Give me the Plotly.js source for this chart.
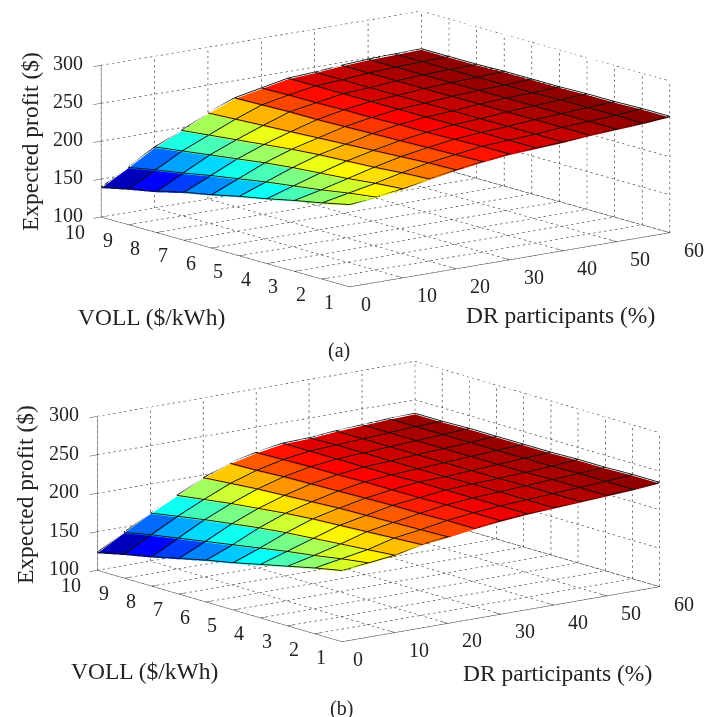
<!DOCTYPE html>
<html><head><meta charset="utf-8">
<script src="https://cdn.plot.ly/plotly-3.0.1.min.js"></script>
<style>html,body{margin:0;padding:0;background:#fff}#c{width:721px;height:717px}</style></head>
<body><div id="c"></div>
<script>
const drParticipants=[0,5,10,15,20,25,30,35,40,45,50,55,60];
const voll=[10,9,8,7,6,5,4,3,2,1];
const profitA=[
[138,158,179,195,212,226,233,240,242,245,247,248,249],
[146,165,184,199,214,227,234,240,242,245,247,248,249],
[153,171,189,203,216,228,234,240,242,245,247,248,249],
[162,178,194,207,218,228,235,240,242,245,247,248,250],
[169,184,199,211,220,229,235,240,242,245,247,248,250],
[177,190,203,214,222,230,236,240,242,245,247,248,250],
[184,195,206,216,224,231,236,240,242,245,247,249,251],
[192,200,209,218,226,232,237,240,242,245,247,249,251],
[199,206,213,221,228,233,238,240,242,245,247,249,252],
[207,211,216,223,229,234,238,240,242,245,247,249,252]];
const profitB=[
[122,142,161,178,195,208,216,222,223,226,228,230,231],
[130,149,167,183,198,209,217,222,224,226,228,230,231],
[137,155,173,188,201,211,218,222,224,226,228,230,232],
[145,161,178,192,203,212,218,222,224,226,228,230,232],
[153,167,183,196,205,213,219,222,224,226,228,230,232],
[160,173,187,199,207,214,219,223,224,226,228,230,232],
[168,179,190,201,208,215,219,223,225,226,228,230,233],
[176,184,193,203,209,215,220,223,225,227,229,231,233],
[184,190,196,205,210,216,220,223,225,227,229,231,234],
[191,195,199,207,211,216,220,223,225,227,229,231,234]];
const xTicks=[0,10,20,30,40,50,60], yTicks=[1,2,3,4,5,6,7,8,9,10], zTicks=[100,150,200,250,300];
const colorRangeA=[131,250], colorRangeB=[115,233];
const FONT='"Liberation Serif","Times New Roman",serif';
function jet(t){t=Math.max(0,Math.min(1,t));
 const f=(a)=>Math.round(255*Math.max(0,Math.min(1,1.5-Math.abs(4*t-a))));
 return `rgb(${f(3)},${f(2)},${f(1)})`;}
function surf(Z,scene,cr){
 const X=[],Y=[],W=[],I=[],J=[],K=[],C=[];const nx=drParticipants.length,ny=voll.length;
 Z.forEach((r,i)=>r.forEach((v,j)=>{X.push(drParticipants[j]);Y.push(voll[i]);W.push(v);}));
 for(let i=0;i<ny-1;i++)for(let j=0;j<nx-1;j++){const a=i*nx+j,b=a+1,c=a+nx,d=c+1,col=jet((Z[i][j]-cr[0])/(cr[1]-cr[0]));
  I.push(a,a);J.push(b,d);K.push(d,c);C.push(col,col);}
 const lx=[],ly=[],lz=[],lift=1.5;
 for(let i=0;i<ny;i++){for(let j=0;j<nx;j++){lx.push(drParticipants[j]);ly.push(voll[i]);lz.push(Z[i][j]+lift);}lx.push(null);ly.push(null);lz.push(null);}
 for(let j=0;j<nx;j++){for(let i=0;i<ny;i++){lx.push(drParticipants[j]);ly.push(voll[i]);lz.push(Z[i][j]+lift);}lx.push(null);ly.push(null);lz.push(null);}
 return [{type:'mesh3d',scene,x:X,y:Y,z:W,i:I,j:J,k:K,facecolor:C,flatshading:true,hoverinfo:'skip',showscale:false,
  lighting:{ambient:1,diffuse:0,specular:0,roughness:1,fresnel:0},lightposition:{x:0,y:0,z:1000}},
 {type:'scatter3d',scene,mode:'lines',x:lx,y:ly,z:lz,line:{color:'#111',width:1.8},connectgaps:false,hoverinfo:'skip',showlegend:false}];
}
function grid(scene){
 const lx=[],ly=[],lz=[];
 const dotted=(a,b,n)=>{for(let i=0;i<n;i++){const s=i/n,e=(i+0.4)/n;
   lx.push(a[0]+(b[0]-a[0])*s,a[0]+(b[0]-a[0])*e,null);ly.push(a[1]+(b[1]-a[1])*s,a[1]+(b[1]-a[1])*e,null);lz.push(a[2]+(b[2]-a[2])*s,a[2]+(b[2]-a[2])*e,null);}};
 const NX=59,NY=47,NZ=28;
 xTicks.forEach(x=>{dotted([x,1,100],[x,10,100],NY);dotted([x,10,100],[x,10,300],NZ);});
 yTicks.forEach(y=>{dotted([0,y,100],[60,y,100],NX);dotted([60,y,100],[60,y,300],NZ);});
 zTicks.forEach(z=>{dotted([0,10,z],[60,10,z],NX);dotted([60,10,z],[60,1,z],NY);});
 return {type:'scatter3d',scene,mode:'lines',x:lx,y:ly,z:lz,line:{color:'#222',width:1.2},connectgaps:false,hoverinfo:'skip',showlegend:false};
}
function ticks(scene){
 const lx=[],ly=[],lz=[];
 xTicks.forEach(x=>{lx.push(x,x,null);ly.push(1,1.2,null);lz.push(100,100,null);});
 yTicks.forEach(y=>{lx.push(0,1.3,null);ly.push(y,y,null);lz.push(100,100,null);});
 return {type:'scatter3d',scene,mode:'lines',x:lx,y:ly,z:lz,line:{color:'#444',width:1},connectgaps:false,hoverinfo:'skip',showlegend:false};
}
function axis(v,r,tk){return {range:r,tickvals:v,showticklabels:false,showgrid:false,zeroline:false,showbackground:false,showspikes:false,showline:true,linecolor:'#444',linewidth:1,ticks:tk,ticklen:5,tickcolor:'#444',title:{text:''}};}
function tickAnn(){const a=[];const f={family:FONT,size:20,color:'#222'};const mk=(x,y,z,t,xs,ys)=>a.push({x,y,z,text:String(t),showarrow:false,xshift:xs,yshift:ys,font:f,xanchor:'center',yanchor:'middle'});
 xTicks.forEach(x=>mk(x,1,100,x,x===0?16:24,-17));
 yTicks.forEach(y=>mk(0,y,100,y,y===10?-26:-21,-15));
 zTicks.forEach(z=>mk(0,10,z,z,-33,2));
 return a;}
function sceneCfg(dom,azd,eld,xr,zr){const D=3.2,az=azd*Math.PI/180,el=eld*Math.PI/180;return {domain:dom,aspectmode:'manual',aspectratio:{x:xr,y:xr,z:zr},annotations:tickAnn(),
 xaxis:axis(xTicks,[0,60],''),yaxis:axis(yTicks,[1,10],''),zaxis:axis(zTicks,[100,300],'outside'),
 camera:{projection:{type:'orthographic'},center:{x:0,y:0,z:0},up:{x:0,y:0,z:1},
  eye:{x:-D*Math.cos(el)*Math.cos(az),y:-D*Math.cos(el)*Math.sin(az),z:D*Math.sin(el)}}};}
const ann=(text,x,y,size,extra)=>Object.assign({xref:'paper',yref:'paper',x:x/721,y:1-y/717,text,showarrow:false,font:{family:FONT,size,color:'#222'},xanchor:'center',yanchor:'middle'},extra||{});
const layout={width:721,height:717,margin:{l:0,r:0,t:0,b:0},paper_bgcolor:'#fff',showlegend:false,
 scene:sceneCfg({x:[50/721,1],y:[1-298/717,1]},52.2,12.6,2.72,1.043),
 scene2:sceneCfg({x:[36/721,1],y:[1-651/717,1-352/717]},52.4,13.0,2.682,1.057),
 annotations:[
  ann('Expected profit ($)',30,142,23.5,{textangle:-90}),
  ann('VOLL ($/kWh)',151,317,23.5),
  ann('DR participants (%)',560,315,23.5),
  ann('(a)',339,350,20),
  ann('Expected profit ($)',25,495,23.5,{textangle:-90}),
  ann('VOLL ($/kWh)',144,671,23.5),
  ann('DR participants (%)',557,673,23.5),
  ann('(b)',341,708,20)]};
Plotly.newPlot('c',[grid('scene'),ticks('scene'),...surf(profitA,'scene',colorRangeA),grid('scene2'),ticks('scene2'),...surf(profitB,'scene2',colorRangeB)],layout,{displayModeBar:false});
</script></body></html>
